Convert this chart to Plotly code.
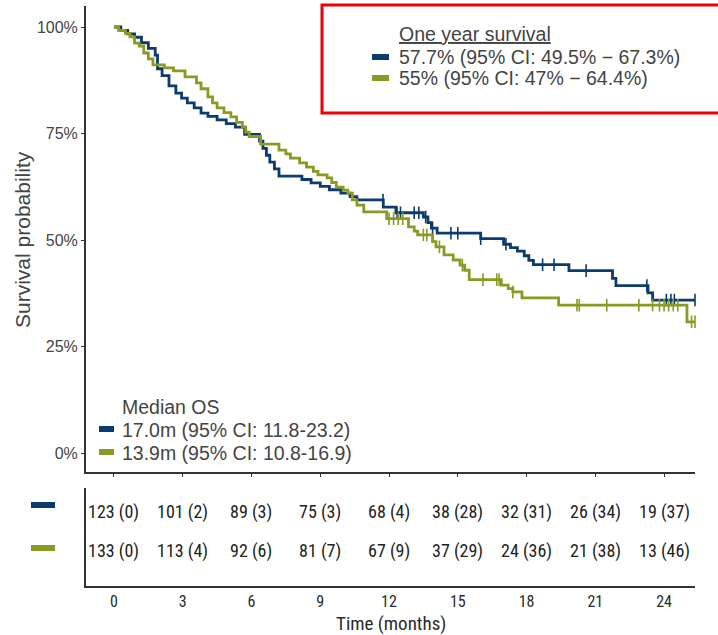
import plotly.graph_objects as go

# ---------------- data ----------------
blue_t = [0, 0.3, 0.6, 0.9, 1.2, 1.5, 1.8, 1.9, 2.1, 2.4, 2.7, 2.95, 3.2, 3.5, 3.8, 4.1, 4.5, 4.9, 5.3, 5.7,
          6.35, 6.5, 6.65, 6.8, 7.0, 7.2, 8.2, 8.6, 9.0, 9.4, 9.9, 10.3, 10.6, 11.75, 12.3, 13.5, 13.7, 13.85,
          14.1, 16.0, 17.0, 17.3, 17.6, 17.9, 18.1, 18.3, 19.85, 21.75, 21.9, 23.3, 23.5]
blue_s = [100, 99.2, 98.4, 97.6, 96.3, 95.0, 93.4, 90.2, 88.6, 86.2, 84.5, 83.3, 82.2, 81.0, 79.8, 79.0, 78.2, 77.3, 76.5, 74.8,
          73.2, 71.5, 69.9, 68.3, 66.7, 65.0, 64.2, 63.4, 62.6, 61.8, 61.0, 60.2, 59.4, 57.7, 56.4, 55.4, 54.1, 52.8,
          51.6, 50.3, 49.0, 48.2, 47.4, 46.3, 45.2, 44.2, 42.8, 41.0, 39.3, 37.6, 35.9]
blue_end = 25.35
blue_censor = [11.74, 12.35, 12.5, 13.1, 13.3, 13.6, 13.9, 14.7, 15.0, 16.0, 17.1, 18.7, 19.2, 20.6, 23.25,
               24.1, 24.3, 24.45, 25.35]

green_t = [0, 0.2, 0.5, 0.7, 0.9, 1.1, 1.3, 1.5, 1.7, 2.2, 2.6, 3.1, 3.6, 3.8, 4.1, 4.3, 4.5, 4.8, 5.1, 5.35,
           5.6, 5.75, 5.9, 6.4, 7.2, 7.5, 7.7, 8.1, 8.4, 8.7, 8.9, 9.3, 9.5, 9.7, 10.0, 10.2, 10.4, 10.6, 10.9,
           11.9, 12.85, 13.1, 13.25, 13.9, 14.05, 14.4, 14.8, 15.1, 15.3, 15.5, 16.9, 17.2, 17.4, 17.8, 19.4, 25.0]
green_s = [100, 99.2, 98.5, 97.7, 96.2, 95.5, 93.9, 92.5, 91.1, 90.4, 89.7, 88.3, 86.9, 85.5, 83.6, 82.2, 81.0, 79.9, 78.9, 77.6,
           76.5, 75.3, 74.3, 72.5, 71.1, 70.2, 69.2, 68.1, 67.1, 66.1, 65.3, 64.6, 63.5, 62.4, 61.7, 61.0, 59.4, 58.2, 56.6,
           55.0, 53.1, 52.1, 51.2, 49.6, 48.4, 46.5, 45.3, 44.1, 42.9, 40.7, 39.4, 38.6, 37.8, 36.4, 34.7, 30.8]
green_end = 25.35
green_censor = [12.0, 12.2, 12.4, 12.6, 13.5, 13.65, 14.2, 15.2, 16.1, 16.7, 16.8, 17.4, 20.2, 20.3, 21.5, 22.9,
                23.5, 23.8, 24.0, 24.2, 24.4, 24.6, 25.2, 25.35]

tick_months = [0, 3, 6, 9, 12, 15, 18, 21, 24]
risk_blue = ["123 (0)", "101 (2)", "89 (3)", "75 (3)", "68 (4)", "38 (28)", "32 (31)", "26 (34)", "19 (37)"]
risk_green = ["133 (0)", "113 (4)", "92 (6)", "81 (7)", "67 (9)", "37 (29)", "24 (36)", "21 (38)", "13 (46)"]

y_ticks = [0, 25, 50, 75, 100]
y_ticktext = ["0%", "25%", "50%", "75%", "100%"]

oneyear_title = "One year survival"
oneyear_blue = "57.7% (95% CI: 49.5% \u2212 67.3%)"
oneyear_green = "55% (95% CI: 47% \u2212 64.4%)"
median_title = "Median OS"
median_blue = "17.0m (95% CI: 11.8-23.2)"
median_green = "13.9m (95% CI: 10.8-16.9)"

BLUE = "#0c3b6d"
GREEN = "#8a9a22"
TXT = "#2a2a2a"
W, H = 718, 635
FONT = "Liberation Sans, Arial, sans-serif"
NARROW = "Liberation Sans Narrow, Roboto Condensed, Roboto, Liberation Sans, Arial"
LEG = 19.5


def px(x):
    return x / W


def py(y):
    return 1 - y / H


def step_at(t, ts, ss):
    v = ss[0]
    for ti, si in zip(ts, ss):
        if ti <= t:
            v = si
    return v


fig = go.Figure()
for ts, ss, end, cens, col in [(blue_t, blue_s, blue_end, blue_censor, BLUE),
                               (green_t, green_s, green_end, green_censor, GREEN)]:
    fig.add_trace(go.Scatter(x=ts + [end], y=ss + [ss[-1]], mode="lines", line=dict(color=col, width=2.8, shape="hv"),
                             cliponaxis=False, xaxis="x", yaxis="y"))
    fig.add_trace(go.Scatter(x=cens, y=[step_at(c, ts, ss) for c in cens], mode="markers",
                             marker=dict(symbol="line-ns-open", size=9, color=col, line=dict(color=col, width=1.6)),
                             cliponaxis=False, xaxis="x", yaxis="y"))

axis_common = dict(showgrid=False, zeroline=False, showline=True, linecolor="#333", linewidth=2)

fig.update_layout(
    width=W, height=H, margin=dict(l=0, r=0, t=0, b=0),
    plot_bgcolor="white", paper_bgcolor="white", showlegend=False,
    xaxis=dict(domain=[px(86), px(695)], range=[-1.22, 25.35], tickvals=tick_months, showticklabels=False,
               ticks="outside", ticklen=3, tickcolor="#333", anchor="y", **axis_common),
    yaxis=dict(domain=[py(472), py(6)], range=[-4.46, 104.93], tickvals=y_ticks, ticktext=y_ticktext,
               ticks="outside", ticklen=3, tickcolor="#333", tickfont=dict(family=FONT, size=16, color="#444"),
               anchor="x", **axis_common),
    xaxis2=dict(domain=[px(86), px(695)], range=[-1.22, 25.35], tickvals=tick_months,
                ticktext=[str(m) for m in tick_months], ticks="", tickfont=dict(family=NARROW, size=16, color=TXT),
                anchor="y2", **axis_common),
    yaxis2=dict(domain=[py(586), py(488)], range=[0, 1], showticklabels=False, ticks="", anchor="x2",
                **axis_common),
)

ann = []


def add_text(text, x, y, size=LEG, family=FONT, color="#444", xanchor="left", xref="paper", angle=0):
    ann.append(dict(text=text, x=x, y=y, xref=xref, yref="paper", xanchor=xanchor, yanchor="middle",
                    textangle=angle, showarrow=False, font=dict(family=family, size=size, color=color)))


# axis titles
add_text("Survival probability", px(22), py(240), size=21, xanchor="center", angle=-90)
add_text("Time (months)", px(391), py(623), size=19, family=NARROW, color=TXT, xanchor="center")
# risk table
for m, b, g in zip(tick_months, risk_blue, risk_green):
    add_text(b, m, py(512), size=18, family=NARROW, color="#222", xanchor="center", xref="x2")
    add_text(g, m, py(551), size=18, family=NARROW, color="#222", xanchor="center", xref="x2")
# one year legend
add_text("<u>" + oneyear_title + "</u>", px(397), py(34))
add_text(oneyear_blue, px(397), py(57))
add_text(oneyear_green, px(397), py(78))
# median legend
add_text(median_title, px(120), py(407))
add_text(median_blue, px(120), py(430))
add_text(median_green, px(120), py(453))
fig.update_layout(annotations=ann)

shapes = []
shapes.append(dict(type="rect", xref="paper", yref="paper", x0=px(322), x1=px(722), y0=py(113), y1=py(5),
                   line=dict(color="#ee0000", width=3), fillcolor="rgba(0,0,0,0)"))
for (x0, x1, yc, h, col) in [(372, 389, 57, 6, BLUE), (372, 389, 78, 6, GREEN),
                             (99, 114, 429, 6, BLUE), (99, 114, 452, 6, GREEN),
                             (31, 55, 505, 6, BLUE), (31, 55, 548, 6, GREEN)]:
    shapes.append(dict(type="rect", xref="paper", yref="paper", x0=px(x0), x1=px(x1),
                       y0=py(yc + h / 2), y1=py(yc - h / 2), line=dict(width=0), fillcolor=col))
fig.update_layout(shapes=shapes)

fig.write_html("out.html", config={"displayModeBar": False},
               post_script="document.body.style.margin='0px';document.body.style.overflow='hidden';")
